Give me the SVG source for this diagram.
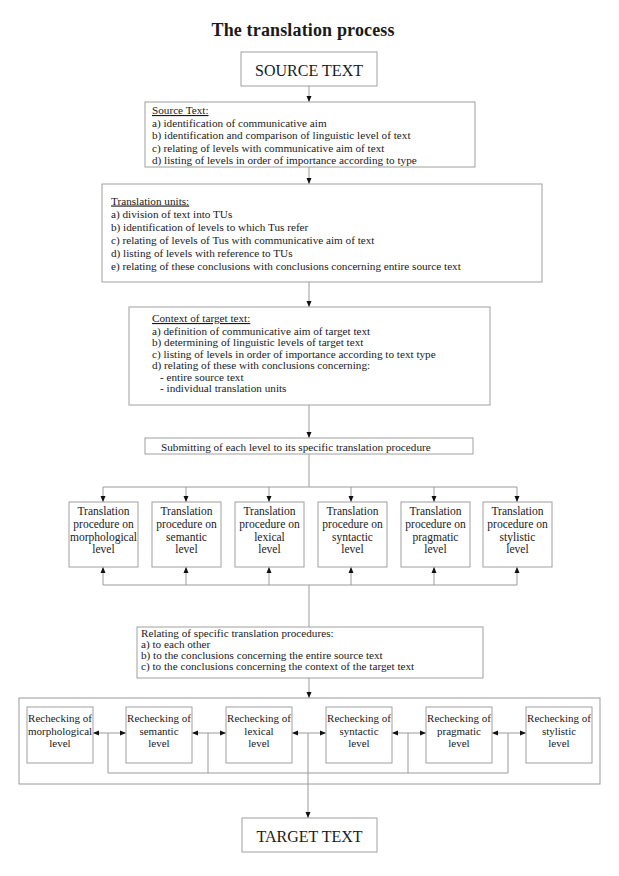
<svg xmlns="http://www.w3.org/2000/svg" width="619" height="876" viewBox="0 0 619 876">
<style>
text{font-family:"Liberation Serif","Times New Roman",serif;fill:#1a1a1a}
.box{fill:#fff;stroke:#a0a0a0;stroke-width:1}
.ln{fill:none;stroke:#9a9a9a;stroke-width:1}
.t{font-size:11.2px}
.p{font-size:11.5px;text-anchor:middle}
.r{font-size:11px;text-anchor:middle}
.u{text-decoration:underline}
</style>
<defs>
<marker id="ah" markerUnits="userSpaceOnUse" markerWidth="6" markerHeight="6" refX="6" refY="3" orient="auto-start-reverse"><path d="M0,0.5 L6,3 L0,5.5 z" fill="#111"/></marker>
</defs>
<text x="303" y="36" font-size="18" font-weight="bold" text-anchor="middle" textLength="183">The translation process</text>

<g id="connectors">
<line class="ln" x1="309" y1="86" x2="309" y2="102" marker-end="url(#ah)"/>
<line class="ln" x1="309" y1="167" x2="309" y2="184" marker-end="url(#ah)"/>
<line class="ln" x1="309" y1="282" x2="309" y2="307" marker-end="url(#ah)"/>
<line class="ln" x1="309" y1="405" x2="309" y2="438" marker-end="url(#ah)"/>
<polyline class="ln" points="309,454 309,487"/>
<line class="ln" x1="103" y1="487" x2="517" y2="487"/>
<line class="ln" x1="103" y1="487" x2="103" y2="502" marker-end="url(#ah)"/>
<line class="ln" x1="186" y1="487" x2="186" y2="502" marker-end="url(#ah)"/>
<line class="ln" x1="269" y1="487" x2="269" y2="502" marker-end="url(#ah)"/>
<line class="ln" x1="351" y1="487" x2="351" y2="502" marker-end="url(#ah)"/>
<line class="ln" x1="434" y1="487" x2="434" y2="502" marker-end="url(#ah)"/>
<line class="ln" x1="517" y1="487" x2="517" y2="502" marker-end="url(#ah)"/>
<line class="ln" x1="103" y1="585" x2="517" y2="585"/>
<line class="ln" x1="103" y1="585" x2="103" y2="567" marker-end="url(#ah)"/>
<line class="ln" x1="186" y1="585" x2="186" y2="567" marker-end="url(#ah)"/>
<line class="ln" x1="269" y1="585" x2="269" y2="567" marker-end="url(#ah)"/>
<line class="ln" x1="351" y1="585" x2="351" y2="567" marker-end="url(#ah)"/>
<line class="ln" x1="434" y1="585" x2="434" y2="567" marker-end="url(#ah)"/>
<line class="ln" x1="517" y1="585" x2="517" y2="567" marker-end="url(#ah)"/>
<line class="ln" x1="309" y1="585" x2="309" y2="627"/>
<line class="ln" x1="309" y1="678" x2="309" y2="698" marker-end="url(#ah)"/>
<line class="ln" x1="93" y1="733" x2="126" y2="733" marker-start="url(#ah)" marker-end="url(#ah)"/>
<line class="ln" x1="192" y1="733" x2="226" y2="733" marker-start="url(#ah)" marker-end="url(#ah)"/>
<line class="ln" x1="292" y1="733" x2="326" y2="733" marker-start="url(#ah)" marker-end="url(#ah)"/>
<line class="ln" x1="392" y1="733" x2="426" y2="733" marker-start="url(#ah)" marker-end="url(#ah)"/>
<line class="ln" x1="492" y1="733" x2="526" y2="733" marker-start="url(#ah)" marker-end="url(#ah)"/>
<polyline class="ln" points="108,733 108,773 508,773 508,733"/>
<line class="ln" x1="208" y1="733" x2="208" y2="773"/>
<line class="ln" x1="408" y1="733" x2="408" y2="773"/>
<line class="ln" x1="308" y1="733" x2="308" y2="818" marker-end="url(#ah)"/>
</g>

<g id="source">
<rect class="box" x="241" y="52" width="136" height="34"/>
<text x="309" y="76" font-size="16" text-anchor="middle" textLength="108">SOURCE TEXT</text>
</g>

<g id="source-analysis">
<rect class="box" x="145" y="102" width="330" height="65"/>
<text class="t" x="152" y="114"><tspan class="u">Source Text:</tspan></text>
<text class="t" x="152" y="126.5">a) identification of communicative aim</text>
<text class="t" x="152" y="139">b) identification and comparison of linguistic level of text</text>
<text class="t" x="152" y="151.5">c) relating of levels with communicative aim of text</text>
<text class="t" x="152" y="164">d) listing of levels in order of importance according to type</text>
</g>

<g id="translation-units">
<rect class="box" x="102" y="184" width="440" height="98"/>
<text class="t" x="111" y="204.5"><tspan class="u">Translation units:</tspan></text>
<text class="t" x="111" y="218">a) division of text into TUs</text>
<text class="t" x="111" y="231">b) identification of levels to which Tus refer</text>
<text class="t" x="111" y="243.5">c) relating of levels of Tus with communicative aim of text</text>
<text class="t" x="111" y="257">d) listing of levels with reference to TUs</text>
<text class="t" x="111" y="270">e) relating of  these conclusions with conclusions concerning entire source text</text>
</g>

<g id="context">
<rect class="box" x="129" y="307" width="361" height="98"/>
<text class="t" x="152" y="322"><tspan class="u">Context of target text:</tspan></text>
<text class="t" x="152" y="334.5">a) definition of communicative aim of target text</text>
<text class="t" x="152" y="346">b) determining of linguistic levels of target text</text>
<text class="t" x="152" y="357.5">c) listing of levels in order of importance according to text type</text>
<text class="t" x="152" y="369">d) relating of these with conclusions concerning:</text>
<text class="t" x="160" y="380.5">- entire source text</text>
<text class="t" x="160" y="392">- individual translation units</text>
</g>

<g id="submitting">
<rect class="box" x="145" y="438" width="328" height="16"/>
<text class="t" x="161" y="450.5">Submitting of each level to its specific translation procedure</text>
</g>

<g id="proc-morphological">
<rect class="box" x="69" y="502" width="69" height="65"/>
<text class="p" x="103.5" y="515">Translation</text>
<text class="p" x="103.5" y="528">procedure on</text>
<text class="p" x="103.5" y="541">morphological</text>
<text class="p" x="103.5" y="553">level</text>
</g>
<g id="proc-semantic">
<rect class="box" x="152" y="502" width="69" height="65"/>
<text class="p" x="186.5" y="515">Translation</text>
<text class="p" x="186.5" y="528">procedure on</text>
<text class="p" x="186.5" y="541">semantic</text>
<text class="p" x="186.5" y="553">level</text>
</g>
<g id="proc-lexical">
<rect class="box" x="235" y="502" width="69" height="65"/>
<text class="p" x="269.5" y="515">Translation</text>
<text class="p" x="269.5" y="528">procedure on</text>
<text class="p" x="269.5" y="541">lexical</text>
<text class="p" x="269.5" y="553">level</text>
</g>
<g id="proc-syntactic">
<rect class="box" x="318" y="502" width="69" height="65"/>
<text class="p" x="352.5" y="515">Translation</text>
<text class="p" x="352.5" y="528">procedure on</text>
<text class="p" x="352.5" y="541">syntactic</text>
<text class="p" x="352.5" y="553">level</text>
</g>
<g id="proc-pragmatic">
<rect class="box" x="401" y="502" width="69" height="65"/>
<text class="p" x="435.5" y="515">Translation</text>
<text class="p" x="435.5" y="528">procedure on</text>
<text class="p" x="435.5" y="541">pragmatic</text>
<text class="p" x="435.5" y="553">level</text>
</g>
<g id="proc-stylistic">
<rect class="box" x="483" y="502" width="69" height="65"/>
<text class="p" x="517.5" y="515">Translation</text>
<text class="p" x="517.5" y="528">procedure on</text>
<text class="p" x="517.5" y="541">stylistic</text>
<text class="p" x="517.5" y="553">level</text>
</g>

<g id="relating">
<rect class="box" x="137" y="627" width="346" height="51"/>
<text class="t" x="141" y="637">Relating of  specific translation procedures:</text>
<text class="t" x="141" y="648">a) to each other</text>
<text class="t" x="141" y="659">b) to the conclusions concerning the entire source text</text>
<text class="t" x="141" y="670">c) to the conclusions concerning the context of  the target text</text>
</g>

<g id="recheck-frame">
<rect class="ln" x="19" y="698" width="581" height="86"/>
</g>
<g id="recheck-morphological">
<rect class="box" x="27" y="707" width="66" height="56"/>
<text class="r" x="60" y="722">Rechecking of</text>
<text class="r" x="60" y="735">morphological</text>
<text class="r" x="60" y="747">level</text>
</g>
<g id="recheck-semantic">
<rect class="box" x="126" y="707" width="66" height="56"/>
<text class="r" x="159" y="722">Rechecking of</text>
<text class="r" x="159" y="735">semantic</text>
<text class="r" x="159" y="747">level</text>
</g>
<g id="recheck-lexical">
<rect class="box" x="226" y="707" width="66" height="56"/>
<text class="r" x="259" y="722">Rechecking of</text>
<text class="r" x="259" y="735">lexical</text>
<text class="r" x="259" y="747">level</text>
</g>
<g id="recheck-syntactic">
<rect class="box" x="326" y="707" width="66" height="56"/>
<text class="r" x="359" y="722">Rechecking of</text>
<text class="r" x="359" y="735">syntactic</text>
<text class="r" x="359" y="747">level</text>
</g>
<g id="recheck-pragmatic">
<rect class="box" x="426" y="707" width="66" height="56"/>
<text class="r" x="459" y="722">Rechecking of</text>
<text class="r" x="459" y="735">pragmatic</text>
<text class="r" x="459" y="747">level</text>
</g>
<g id="recheck-stylistic">
<rect class="box" x="526" y="707" width="66" height="56"/>
<text class="r" x="559" y="722">Rechecking of</text>
<text class="r" x="559" y="735">stylistic</text>
<text class="r" x="559" y="747">level</text>
</g>

<g id="target">
<rect class="box" x="242" y="818" width="135" height="34"/>
<text x="309.5" y="842" font-size="16" text-anchor="middle" textLength="106">TARGET TEXT</text>
</g>
</svg>
